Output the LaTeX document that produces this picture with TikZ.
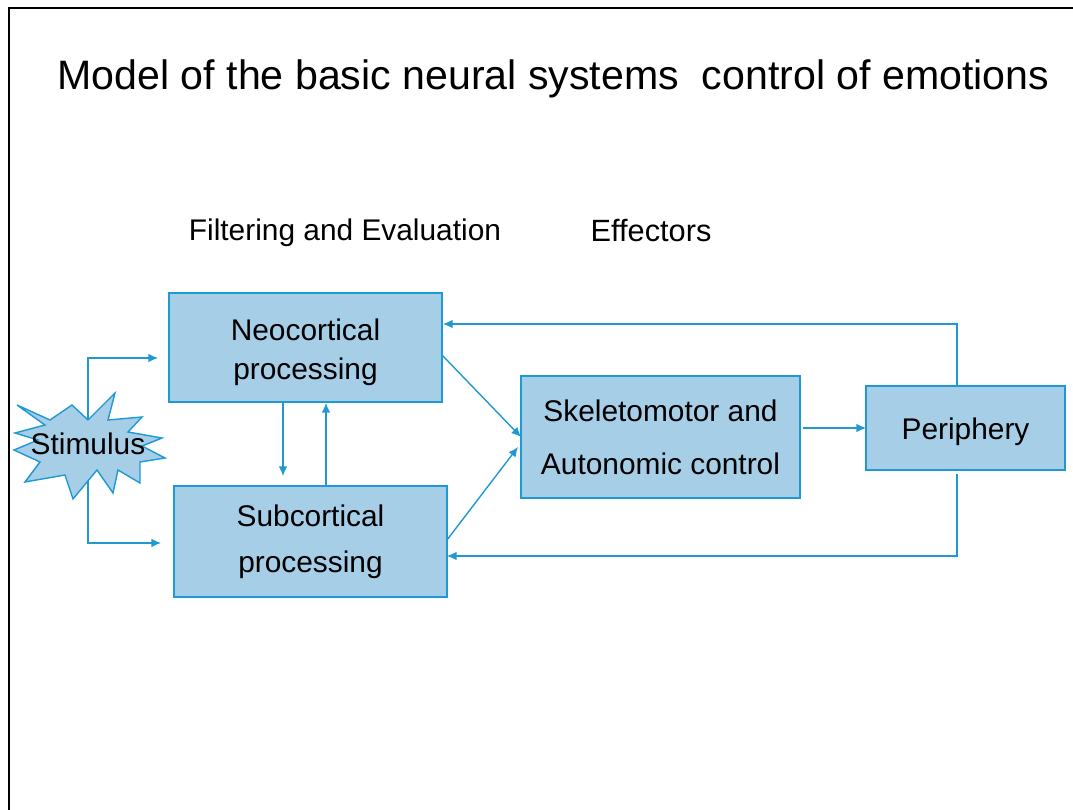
\documentclass[tikz,border=0pt]{standalone}
\usepackage{fontspec}
\setmainfont{Liberation Sans}
\usetikzlibrary{calc,arrows.meta}
\definecolor{fillblue}{RGB}{166,206,230}
\definecolor{lineblue}{RGB}{30,153,212}
\tikzset{
  box/.style={draw=lineblue, fill=fillblue, line width=0.8pt, inner sep=0pt, outer sep=0pt, align=center},
  arr/.style={draw=lineblue, line width=0.8pt, -{Latex[length=5.5pt,width=5pt]}},
  lbl/.style={font=\fontsize{17}{20}\selectfont, inner sep=0pt}
}
\begin{document}
\begin{tikzpicture}[x=0.02cm, y=-0.02cm]
\useasboundingbox (0,0) rectangle (1073,810);
% slide frame
\draw[line width=1.2pt, black] (9,815) -- (9,8) -- (1080,8);
% title
\node[anchor=base, inner sep=0pt, font=\fontsize{23.4}{28}\selectfont] (title) at (553.5,90) {Model of the basic neural systems\ \ control of emotions};
\node[anchor=base, lbl] (filt) at (345,241) {Filtering and Evaluation};
\node[anchor=base, lbl, font=\fontsize{17.5}{20}\selectfont] (eff) at (651,242) {Effectors};
% boxes
\node[box, minimum width=5.46cm, minimum height=2.18cm, font=\fontsize{17}{22.5}\selectfont] (neo) at (305.5,347.5) {\rule{0pt}{18pt}Neocortical\\processing};
\node[box, minimum width=5.46cm, minimum height=2.22cm, font=\fontsize{17}{26}\selectfont] (sub) at (310.5,541.5) {Subcortical\\processing};
\node[box, minimum width=5.58cm, minimum height=2.44cm, font=\fontsize{17}{30}\selectfont] (skel) at (660.5,437) {Skeletomotor and\\Autonomic control};
\node[box, minimum width=3.98cm, minimum height=1.68cm, font=\fontsize{17}{22}\selectfont] (peri) at (965.5,428) {\rule{0pt}{17pt}Periphery};
% stimulus
\coordinate (sc) at (88,443);
\coordinate (n1) at (158,358);
\coordinate (s1) at (161,543);
\draw[arr] (sc) |- (n1);
\draw[arr] (sc) |- (s1);
\fill[fillblue, draw=lineblue, line width=0.8pt]
 (17,405) -- (50,420) -- (72,405) -- (88,420) -- (115,393) -- (108,420) -- (142,417) -- (128,432) -- (162,438) -- (142,446) -- (165,458) -- (140,462) -- (140,483) -- (118,470) -- (113,493) -- (97,470) -- (73,499) -- (65,475) -- (25,482) -- (40,462) -- (14,450) -- (38,440) -- (15,433) -- (45,425) -- cycle;
\node[lbl] (stim) at (88,444) {Stimulus};
% connectors
\draw[arr] ($(neo.south)+(-22.5,0)$) -- ($(sub.north)+(-27.5,-10)$);
\draw[arr] ($(sub.north)+(15.5,0)$) -- ($(neo.south)+(20.5,1)$);
\draw[arr] ($(neo.east)+(0,7.5)$) -- (skel.west);
\draw[arr] ($(sub.east)+(0,-1.5)$) -- ($(skel.west)+(-3,10)$);
\draw[arr] ($(skel.east)+(3,-9)$) -- (peri.west);
\draw[arr] ($(peri.north)+(-8.5,0)$) |- ($(neo.east)+(1,-23.5)$);
\draw[arr] ($(peri.south)+(-8.5,4)$) |- ($(sub.east)+(0,14.5)$);
\end{tikzpicture}
\end{document}
